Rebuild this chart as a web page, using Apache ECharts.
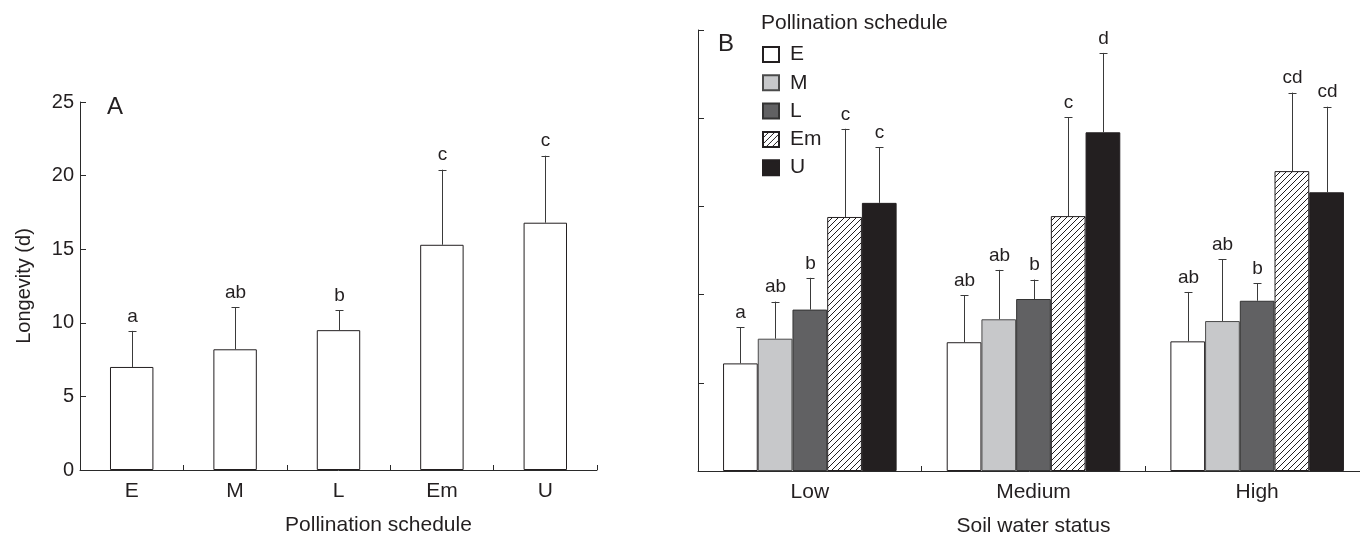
<!DOCTYPE html>
<html>
<head>
<meta charset="utf-8">
<script src="https://cdn.jsdelivr.net/npm/echarts@6/dist/echarts.min.js"></script>
<style>
html,body{margin:0;padding:0;background:#fff;}
#chart{width:1360px;height:535px;}
</style>
</head>
<body>
<div id="chart"></div>
<script>
// ---- Panel A data ----
const catsA = ['E', 'M', 'L', 'Em', 'U'];
const meanA = [7.0, 8.2, 9.5, 15.3, 16.8];
const errA = [2.45, 2.85, 1.35, 5.1, 4.55];
const letA = ['a', 'ab', 'b', 'c', 'c'];
const ticksA = [0, 5, 10, 15, 20, 25];

// ---- Panel B data ----
const catsB = ['Low', 'Medium', 'High'];
const schedules = ['E', 'M', 'L', 'Em', 'U'];
const meanB_E = [6.1, 7.3, 7.35];
const meanB_M = [7.5, 8.6, 8.5];
const meanB_L = [9.15, 9.75, 9.65];
const meanB_Em = [14.4, 14.45, 17.0];
const meanB_U = [15.2, 19.2, 15.8];
const errB_E = [2.05, 2.65, 2.8];
const errB_M = [2.1, 2.8, 3.5];
const errB_L = [1.8, 1.1, 1.0];
const errB_Em = [5.0, 5.6, 4.45];
const errB_U = [3.15, 4.5, 4.85];
const letB_E = ['a', 'ab', 'ab'];
const letB_M = ['ab', 'ab', 'ab'];
const letB_L = ['b', 'b', 'b'];
const letB_Em = ['c', 'c', 'cd'];
const letB_U = ['c', 'd', 'cd'];

const meansB = [meanB_E, meanB_M, meanB_L, meanB_Em, meanB_U];
const errsB = [errB_E, errB_M, errB_L, errB_Em, errB_U];
const letsB = [letB_E, letB_M, letB_L, letB_Em, letB_U];

const FONT = '"Liberation Sans", Arial, Helvetica, sans-serif';
const TXT = '#231f20';
const AX = '#2a2a2a';

// hatch pattern
function hatch() {
  const c = document.createElement('canvas');
  const s = 6;
  c.width = s; c.height = s;
  const g = c.getContext('2d');
  g.fillStyle = '#fff'; g.fillRect(0, 0, s, s);
  g.strokeStyle = '#231f20'; g.lineWidth = 1;
  g.beginPath();
  g.moveTo(0, s); g.lineTo(s, 0);
  g.moveTo(-1, 1); g.lineTo(1, -1);
  g.moveTo(s - 1, s + 1); g.lineTo(s + 1, s - 1);
  g.stroke();
  return c;
}

const styles = [
  { color: '#ffffff', borderColor: '#231f20', borderWidth: 1 },
  { color: '#c7c8ca', borderColor: '#4a4a4a', borderWidth: 1 },
  { color: '#616163', borderColor: '#333333', borderWidth: 1 },
  { color: { image: hatch(), repeat: 'repeat' }, borderColor: '#231f20', borderWidth: 1 },
  { color: '#231f20', borderColor: '#231f20', borderWidth: 1 }
];

const catGapB = 0.224;

function errGroup(px, p0, p1, letter) {
  const x = Math.round(px) + 0.5;
  const cap = 4;
  return {
    type: 'group',
    children: [
      { type: 'line', shape: { x1: x, y1: p0, x2: x, y2: p1 }, style: { stroke: '#3a3a3a', lineWidth: 1 } },
      { type: 'line', shape: { x1: x - cap, y1: Math.round(p1) + 0.5, x2: x + cap, y2: Math.round(p1) + 0.5 }, style: { stroke: '#3a3a3a', lineWidth: 1 } },
      { type: 'text', x: x, y: p1 - 5, style: { text: letter, fill: TXT, fontSize: 19, fontFamily: FONT, align: 'center', verticalAlign: 'bottom' } }
    ]
  };
}

const series = [];
// Panel A bars
series.push({
  type: 'bar', name: 'A', xAxisIndex: 0, yAxisIndex: 0,
  data: meanA, barWidth: '42%',
  itemStyle: { color: '#fff', borderColor: '#231f20', borderWidth: 1 },
  silent: true
});
series.push({
  type: 'custom', xAxisIndex: 0, yAxisIndex: 0, z: 5,
  data: meanA.map((m, i) => [i, m, errA[i]]),
  renderItem: function (params, api) {
    const i = api.value(0), m = api.value(1), e = api.value(2);
    const p0 = api.coord([i, m]);
    const p1 = api.coord([i, m + e]);
    return errGroup(p0[0], p0[1], p1[1], letA[params.dataIndex]);
  }
});
// Panel B bars
schedules.forEach((s, si) => {
  series.push({
    type: 'bar', name: s, xAxisIndex: 1, yAxisIndex: 1,
    data: meansB[si], barGap: '0%', barCategoryGap: (catGapB * 100) + '%',
    itemStyle: styles[si], silent: true
  });
});
const errDataB = [];
schedules.forEach((s, si) => {
  catsB.forEach((c, gi) => {
    errDataB.push([gi, meansB[si][gi], errsB[si][gi], si]);
  });
});
series.push({
  type: 'custom', xAxisIndex: 1, yAxisIndex: 1, z: 5,
  data: errDataB,
  renderItem: function (params, api) {
    const g = api.value(0), m = api.value(1), e = api.value(2), si = api.value(3);
    const band = api.size([1, 0])[0];
    const bw = band * (1 - catGapB) / schedules.length;
    const p0 = api.coord([g, m]);
    const p1 = api.coord([g, m + e]);
    const x = p0[0] + (si - 2) * bw;
    return errGroup(x, p0[1], p1[1], letsB[si][g]);
  }
});

const axisLine = { show: true, lineStyle: { color: AX, width: 1 } };

const option = {
  animation: false,
  backgroundColor: '#fff',
  textStyle: { fontFamily: FONT, color: TXT },
  title: {
    text: 'Pollination schedule', left: 761, top: 13, padding: 0,
    textStyle: { fontFamily: FONT, fontSize: 21, fontWeight: 'normal', color: TXT }
  },
  legend: {
    data: schedules, orient: 'vertical', left: 762, top: 44, padding: 0,
    icon: 'rect', itemWidth: 16, itemHeight: 15, itemGap: 7.3,
    selectedMode: false,
    textStyle: { fontFamily: FONT, fontSize: 21, color: TXT, padding: [0, 0, 0, 6] }
  },
  graphic: [
    { type: 'text', left: 107, top: 95, style: { text: 'A', fontSize: 24, fontFamily: FONT, fill: TXT } },
    { type: 'text', left: 718, top: 32, style: { text: 'B', fontSize: 24, fontFamily: FONT, fill: TXT } }
  ],
  grid: [
    { left: 80, top: 102, width: 517, height: 368, outerBoundsMode: 'none', containLabel: false },
    { left: 698, top: 30, width: 671, height: 441, outerBoundsMode: 'none', containLabel: false }
  ],
  xAxis: [
    {
      type: 'category', gridIndex: 0, data: catsA,
      axisLine: axisLine,
      axisTick: { show: true, inside: true, length: 5, alignWithLabel: false, lineStyle: { color: AX } },
      axisLabel: { fontSize: 21, color: TXT, fontFamily: FONT, margin: 11 },
      name: 'Pollination schedule', nameLocation: 'middle', nameGap: 45,
      nameTextStyle: { fontSize: 21, color: TXT, fontFamily: FONT, padding: [0, 0, 0, 80] }
    },
    {
      type: 'category', gridIndex: 1, data: catsB,
      axisLine: axisLine,
      axisTick: { show: true, inside: true, length: 5, alignWithLabel: false, lineStyle: { color: AX } },
      axisLabel: { fontSize: 21, color: TXT, fontFamily: FONT, margin: 11 },
      name: 'Soil water status', nameLocation: 'middle', nameGap: 45,
      nameTextStyle: { fontSize: 21, color: TXT, fontFamily: FONT }
    }
  ],
  yAxis: [
    {
      type: 'value', gridIndex: 0, min: ticksA[0], max: ticksA[ticksA.length - 1], interval: 5,
      axisLine: axisLine,
      axisTick: { show: true, inside: true, length: 6, lineStyle: { color: AX } },
      axisLabel: { fontSize: 20, color: TXT, fontFamily: FONT, margin: 6 },
      splitLine: { show: false },
      name: 'Longevity (d)', nameLocation: 'middle', nameGap: 46,
      nameTextStyle: { fontSize: 20, color: TXT, fontFamily: FONT }
    },
    {
      type: 'value', gridIndex: 1, min: 0, max: 25, interval: 5,
      axisLine: axisLine,
      axisTick: { show: true, inside: true, length: 6, lineStyle: { color: AX } },
      axisLabel: { show: false },
      splitLine: { show: false }
    }
  ],
  series: series
};

const chart = echarts.init(document.getElementById('chart'), null, { renderer: 'canvas' });
chart.setOption(option);
</script>
</body>
</html>
